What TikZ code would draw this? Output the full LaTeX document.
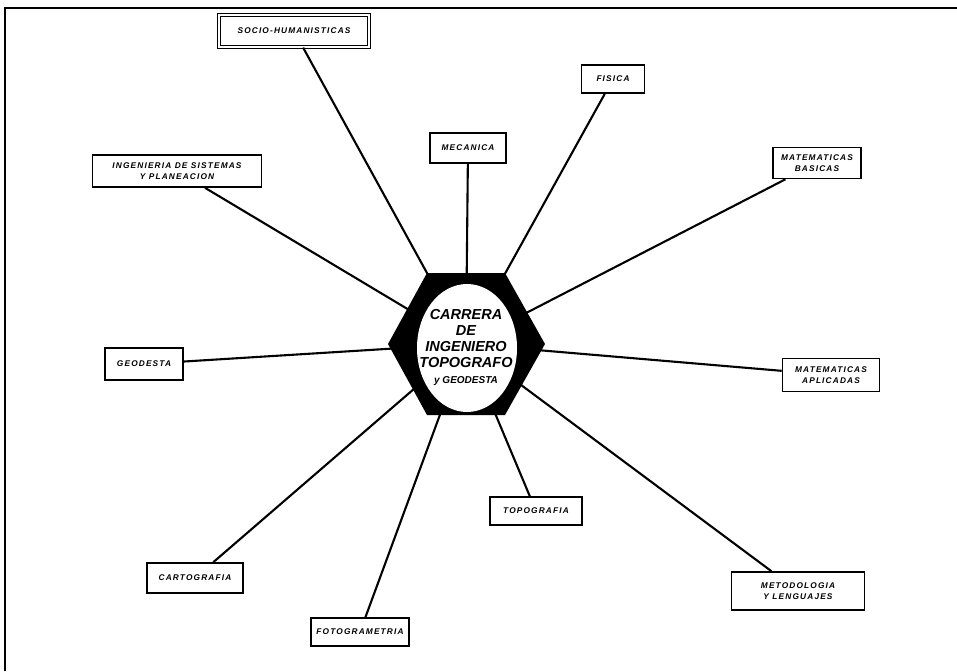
\documentclass[tikz,border=0pt]{standalone}
\usepackage{fontspec}
\setmainfont{Liberation Sans}
\begin{document}
\begin{tikzpicture}[x=1pt,y=-1pt,
    tema/.style={draw, line width=1.6pt, fill=white, align=center, inner sep=0pt,
      font=\bfseries\itshape\fontsize{8.3}{11.5}\selectfont\addfontfeature{LetterSpace=14}},
    rayo/.style={line width=2.1pt}]
    \useasboundingbox (0,0) rectangle (957,671);

    % Marco
    \draw[line width=2.5pt] (5,671) -- (5,8) -- (957,8);

    % Centro
    \coordinate (hub) at (466,344);

    % Temas
    \node[tema, minimum width=150pt, minimum height=32pt, double, double distance=1.6pt, line width=1.3pt] (socio) at (294,31) {SOCIO-HUMANISTICAS};
    \node[tema, minimum width=169pt, minimum height=32pt] (sistemas) at (177,171) {INGENIERIA DE SISTEMAS\\Y PLANEACION};
    \node[tema, minimum width=76pt, minimum height=30pt] (mecanica) at (468,148) {MECANICA};
    \node[tema, minimum width=63pt, minimum height=28pt] (fisica) at (613,79) {FISICA};
    \node[tema, minimum width=88pt, minimum height=31pt] (basicas) at (817,163) {MATEMATICAS\\BASICAS};
    \node[tema, minimum width=78pt, minimum height=32pt] (geodesta) at (144,364) {GEODESTA};
    \node[tema, minimum width=97pt, minimum height=33pt] (aplicadas) at (831,375) {MATEMATICAS\\APLICADAS};
    \node[tema, minimum width=96pt, minimum height=30pt] (cartografia) at (195,578) {CARTOGRAFIA};
    \node[tema, minimum width=98pt, minimum height=28pt] (fotogrametria) at (360,632) {FOTOGRAMETRIA};
    \node[tema, minimum width=92pt, minimum height=28pt] (topografia) at (536,511) {TOPOGRAFIA};
    \node[tema, minimum width=133pt, minimum height=38pt] (metodologia) at (798,591) {METODOLOGIA\\Y LENGUAJES};

    % Rayos
    \foreach \t in {socio,sistemas,mecanica,fisica,basicas,geodesta,aplicadas,cartografia,fotogrametria,topografia,metodologia}
        \draw[rayo] (\t) -- (hub);

    % Hexagono
    \fill (388,344) -- (427,273) -- (505,273) -- (545,344) -- (505,415) -- (427,415) -- cycle;
    \fill[white] (467,348) ellipse [x radius=50, y radius=64];
    \node[font=\bfseries\itshape\fontsize{14.5}{16}\selectfont, align=center] (titulo) at (466,347)
        {CARRERA\\DE\\INGENIERO\\TOPOGRAFO\\{\fontsize{10}{16}\selectfont y GEODESTA}};

\end{tikzpicture}
\end{document}
